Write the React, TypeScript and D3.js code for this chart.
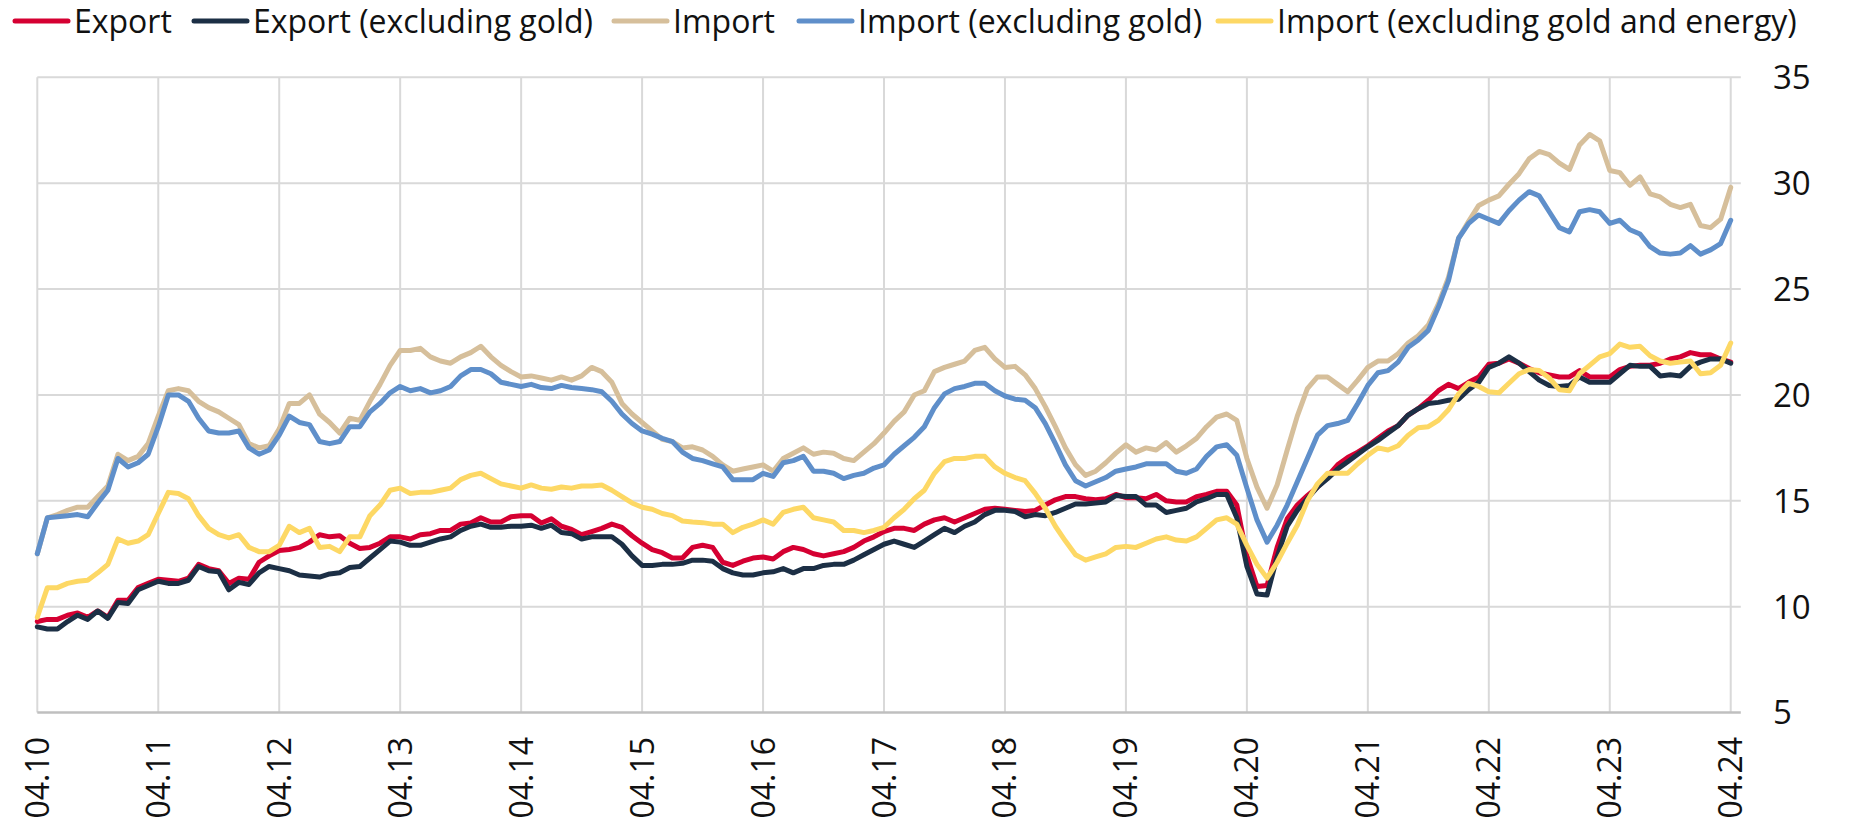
import React from "react";
import * as d3 from "d3";

const W = 1851;
const H = 822;

const tickLabels = ["04.10","04.11","04.12","04.13","04.14","04.15","04.16","04.17","04.18","04.19","04.20","04.21","04.22","04.23","04.24"];
const yTicks = [5, 10, 15, 20, 25, 30, 35];

const exportVals = [
  9.3, 9.4, 9.4, 9.6, 9.7, 9.5, 9.8, 9.5, 10.3, 10.3, 10.9, 11.1, 11.3, 11.25, 11.2, 11.35, 12.0, 11.8, 11.7, 11.1, 11.35, 11.3, 12.1, 12.4, 12.65,
  12.7, 12.8, 13.05, 13.4, 13.3, 13.35, 13.0, 12.75, 12.8, 13.0, 13.3, 13.3, 13.2, 13.4, 13.45, 13.6, 13.6, 13.9, 13.95, 14.2, 14.0, 14.0, 14.25, 14.3,
  14.3, 13.95, 14.15, 13.8, 13.65, 13.4, 13.55, 13.7, 13.9, 13.75, 13.35, 13.0, 12.7, 12.55, 12.3, 12.3, 12.8, 12.9, 12.8, 12.1, 11.95, 12.15, 12.3, 12.35,
  12.25, 12.6, 12.8, 12.7, 12.5, 12.4, 12.5, 12.6, 12.8, 13.1, 13.3, 13.55, 13.7, 13.7, 13.6, 13.9, 14.1, 14.2, 14.0, 14.2, 14.4, 14.6, 14.65, 14.6,
  14.55, 14.5, 14.55, 14.8, 15.05, 15.2, 15.2, 15.1, 15.05, 15.1, 15.3, 15.15, 15.15, 15.1, 15.3, 15.0, 14.95, 14.95, 15.2, 15.3, 15.45, 15.45, 14.8, 12.4,
  10.95, 11.0, 12.8, 14.15, 14.8, 15.25, 15.65, 16.15, 16.7, 17.05, 17.3, 17.6, 17.95, 18.3, 18.55, 19.05, 19.35, 19.75, 20.2, 20.5, 20.3, 20.6, 20.85, 21.45,
  21.5, 21.7, 21.5, 21.25, 21.05, 20.95, 20.85, 20.85, 21.15, 20.85, 20.85, 20.85, 21.2, 21.35, 21.4, 21.4, 21.5, 21.7, 21.8, 22.0, 21.9, 21.9, 21.7, 21.55,
];

const exportExGoldVals = [
  9.05, 8.95, 8.95, 9.3, 9.6, 9.4, 9.8, 9.45, 10.2, 10.15, 10.8, 11.0, 11.2, 11.1, 11.1, 11.25, 11.9, 11.7, 11.65, 10.8, 11.15, 11.05, 11.6, 11.9, 11.8,
  11.7, 11.5, 11.45, 11.4, 11.55, 11.6, 11.85, 11.9, 12.3, 12.7, 13.1, 13.05, 12.9, 12.9, 13.05, 13.2, 13.3, 13.6, 13.8, 13.9, 13.75, 13.75, 13.8, 13.8,
  13.85, 13.7, 13.85, 13.5, 13.45, 13.2, 13.3, 13.3, 13.3, 12.95, 12.4, 11.95, 11.95, 12.0, 12.0, 12.05, 12.2, 12.2, 12.15, 11.8, 11.6, 11.5, 11.5, 11.6,
  11.65, 11.8, 11.6, 11.8, 11.8, 11.95, 12.0, 12.0, 12.2, 12.45, 12.7, 12.95, 13.1, 12.95, 12.8, 13.1, 13.4, 13.7, 13.5, 13.8, 14.0, 14.35, 14.55, 14.55,
  14.5, 14.25, 14.35, 14.3, 14.45, 14.65, 14.85, 14.85, 14.9, 14.95, 15.25, 15.2, 15.2, 14.8, 14.8, 14.45, 14.55, 14.65, 14.95, 15.1, 15.3, 15.3, 14.2, 11.9,
  10.6, 10.55, 12.35, 13.8, 14.55, 15.1, 15.65, 16.05, 16.5, 16.85, 17.2, 17.55, 17.85, 18.2, 18.55, 19.05, 19.35, 19.6, 19.65, 19.75, 19.8, 20.25, 20.6, 21.3,
  21.5, 21.8, 21.5, 21.1, 20.7, 20.45, 20.4, 20.45, 20.85, 20.6, 20.6, 20.6, 21.0, 21.4, 21.35, 21.35, 20.9, 20.95, 20.9, 21.35, 21.55, 21.7, 21.7, 21.5,
];

const importVals = [
  12.5, 14.2, 14.35, 14.55, 14.7, 14.7, 15.2, 15.7, 17.2, 16.9, 17.1, 17.7, 19.0, 20.2, 20.3, 20.2, 19.7, 19.4, 19.2, 18.9, 18.6, 17.7, 17.5, 17.6, 18.4,
  19.6, 19.6, 20.0, 19.1, 18.7, 18.2, 18.9, 18.8, 19.7, 20.5, 21.4, 22.1, 22.1, 22.2, 21.8, 21.6, 21.5, 21.8, 22.0, 22.3, 21.8, 21.4, 21.1, 20.85,
  20.9, 20.8, 20.7, 20.85, 20.7, 20.9, 21.3, 21.1, 20.6, 19.6, 19.1, 18.7, 18.3, 17.9, 17.8, 17.5, 17.55, 17.4, 17.1, 16.7, 16.4, 16.5, 16.6, 16.7,
  16.4, 17.0, 17.25, 17.5, 17.2, 17.3, 17.25, 17.0, 16.9, 17.3, 17.7, 18.2, 18.75, 19.2, 20.0, 20.2, 21.1, 21.3, 21.45, 21.6, 22.1, 22.25, 21.7, 21.3,
  21.35, 20.95, 20.3, 19.45, 18.5, 17.5, 16.7, 16.2, 16.4, 16.8, 17.25, 17.65, 17.3, 17.5, 17.4, 17.75, 17.3, 17.6, 17.95, 18.5, 18.95, 19.1, 18.8, 17.0,
  15.65, 14.65, 15.75, 17.4, 19.0, 20.3, 20.85, 20.85, 20.5, 20.15, 20.7, 21.3, 21.6, 21.6, 21.95, 22.45, 22.8, 23.3, 24.3, 25.55, 27.4, 28.2, 28.95, 29.2,
  29.4, 29.95, 30.45, 31.15, 31.5, 31.35, 30.95, 30.65, 31.8, 32.3, 32.0, 30.6, 30.5, 29.9, 30.3, 29.5, 29.35, 29.0, 28.85, 29.0, 28.0, 27.9, 28.3, 29.8,
];

const importExGoldVals = [
  12.5, 14.2, 14.25, 14.3, 14.35, 14.25, 14.9, 15.5, 17.0, 16.6, 16.8, 17.2, 18.5, 20.0, 20.0, 19.7, 18.9, 18.3, 18.2, 18.2, 18.3, 17.5, 17.2, 17.4, 18.1,
  19.0, 18.7, 18.6, 17.8, 17.7, 17.8, 18.5, 18.5, 19.2, 19.6, 20.1, 20.4, 20.2, 20.3, 20.1, 20.2, 20.4, 20.9, 21.2, 21.2, 21.0, 20.6, 20.5, 20.4,
  20.5, 20.35, 20.3, 20.45, 20.35, 20.3, 20.25, 20.15, 19.7, 19.1, 18.65, 18.3, 18.15, 17.95, 17.8, 17.3, 17.0, 16.9, 16.75, 16.6, 16.0, 16.0, 16.0, 16.3,
  16.15, 16.8, 16.9, 17.1, 16.4, 16.4, 16.3, 16.05, 16.2, 16.3, 16.55, 16.7, 17.2, 17.6, 18.0, 18.5, 19.4, 20.05, 20.3, 20.4, 20.55, 20.55, 20.2, 19.95,
  19.8, 19.75, 19.4, 18.65, 17.7, 16.7, 15.95, 15.7, 15.9, 16.1, 16.4, 16.5, 16.6, 16.75, 16.75, 16.75, 16.4, 16.3, 16.5, 17.1, 17.55, 17.65, 17.15, 15.6,
  14.1, 13.05, 13.85, 14.8, 15.9, 17.0, 18.1, 18.55, 18.65, 18.8, 19.6, 20.45, 21.05, 21.15, 21.55, 22.25, 22.6, 23.05, 24.15, 25.4, 27.4, 28.1, 28.5, 28.3,
  28.1, 28.7, 29.2, 29.6, 29.4, 28.65, 27.9, 27.7, 28.65, 28.75, 28.65, 28.1, 28.25, 27.8, 27.6, 27.0, 26.7, 26.65, 26.7, 27.05, 26.65, 26.85, 27.15, 28.25,
];

const importExGoldEnergyVals = [
  9.5, 10.9, 10.9, 11.1, 11.2, 11.25, 11.6, 12.0, 13.2, 13.0, 13.1, 13.4, 14.4, 15.4, 15.35, 15.1, 14.3, 13.7, 13.4, 13.25, 13.4, 12.8, 12.6, 12.6, 12.9,
  13.8, 13.5, 13.7, 12.8, 12.85, 12.6, 13.3, 13.3, 14.3, 14.8, 15.5, 15.6, 15.35, 15.4, 15.4, 15.5, 15.6, 16.0, 16.2, 16.3, 16.05, 15.8, 15.7, 15.6,
  15.75, 15.6, 15.55, 15.65, 15.6, 15.7, 15.7, 15.75, 15.5, 15.2, 14.9, 14.7, 14.6, 14.4, 14.3, 14.05, 14.0, 13.97, 13.9, 13.9, 13.5, 13.75, 13.9, 14.1,
  13.9, 14.45, 14.6, 14.7, 14.2, 14.1, 14.0, 13.6, 13.6, 13.5, 13.6, 13.75, 14.2, 14.6, 15.1, 15.5, 16.3, 16.85, 17.0, 17.0, 17.1, 17.1, 16.6, 16.3,
  16.1, 15.95, 15.35, 14.65, 13.8, 13.1, 12.45, 12.2, 12.35, 12.5, 12.8, 12.85, 12.8, 13.0, 13.2, 13.3, 13.15, 13.1, 13.3, 13.7, 14.1, 14.2, 13.9, 12.9,
  12.0, 11.35, 12.1, 13.0, 13.85, 15.0, 15.8, 16.3, 16.3, 16.3, 16.75, 17.15, 17.5, 17.4, 17.6, 18.1, 18.45, 18.5, 18.8, 19.3, 20.05, 20.55, 20.4, 20.15,
  20.1, 20.55, 21.0, 21.2, 21.15, 20.8, 20.25, 20.2, 21.0, 21.4, 21.8, 21.95, 22.4, 22.25, 22.3, 21.85, 21.6, 21.5, 21.55, 21.6, 21.0, 21.05, 21.4, 22.45,
];

const seriesNames = [
  "Export",
  "Export (excluding gold)",
  "Import",
  "Import (excluding gold)",
  "Import (excluding gold and energy)",
];
const seriesValues = [exportVals, exportExGoldVals, importVals, importExGoldVals, importExGoldEnergyVals];
const seriesColors = ["#d50032", "#1c2f45", "#d6bf9b", "#5f8fca", "#fdd865"];
const legendX = [13, 192, 612, 797, 1216];

const FONT = "'Open Sans', 'Noto Sans', sans-serif";

export default function App() {
  const nPts = exportVals.length;
  const x = d3.scaleLinear().domain([0, nPts]).range([37.3, 1740.8]);
  const y = d3.scaleLinear().domain([5, 35]).range([712.6, 77.3]);
  const line = d3
    .line<number>()
    .x((_, i) => x(i))
    .y((d) => y(d))
    .curve(d3.curveLinear);

  const yearIdx = tickLabels.map((_, i) => i * 12);

  return (
    <svg
      width={W}
      height={H}
      viewBox={`0 0 ${W} ${H}`}
      style={{ position: "absolute", left: 0, top: 0, background: "#fff" }}
    >
      {yTicks.filter((t) => t !== 5).map((t) => (
        <line key={"h" + t} x1={x(0)} x2={x(nPts)} y1={y(t)} y2={y(t)} stroke="#d9d9d9" strokeWidth={2} />
      ))}
      {yearIdx.map((i) => (
        <line key={"v" + i} x1={x(i)} x2={x(i)} y1={y(35)} y2={y(5)} stroke="#d9d9d9" strokeWidth={2} />
      ))}
      <line x1={x(0)} x2={x(nPts)} y1={y(5)} y2={y(5)} stroke="#bfbfbf" strokeWidth={2.5} />

      {seriesValues.map((vals, si) => (
        <path
          key={seriesNames[si]}
          d={line(vals) || ""}
          fill="none"
          stroke={seriesColors[si]}
          strokeWidth={5}
          strokeLinejoin="round"
          strokeLinecap="round"
        />
      ))}

      {yTicks.map((t) => (
        <text
          key={"yl" + t}
          x={1773}
          y={y(t)}
          dy="0.36em"
          fontFamily={FONT}
          fontSize={33}
          fill="#111"
          textAnchor="start"
        >
          {t}
        </text>
      ))}

      {tickLabels.map((lab, k) => {
        const cx = x(yearIdx[k]);
        const ty = 737;
        return (
          <text
            key={"xl" + lab}
            transform={`translate(${cx},${ty}) rotate(-90)`}
            dy="0.36em"
            fontFamily={FONT}
            fontSize={32}
            fill="#111"
            textAnchor="end"
          >
            {lab}
          </text>
        );
      })}

      {seriesNames.map((name, si) => (
        <g key={"lg" + si}>
          <line
            x1={legendX[si] + 2}
            x2={legendX[si] + 55}
            y1={21}
            y2={21}
            stroke={seriesColors[si]}
            strokeWidth={5}
            strokeLinecap="round"
          />
          <text x={legendX[si] + 61} y={33} fontFamily={FONT} fontSize={32} fill="#111">
            {name}
          </text>
        </g>
      ))}
    </svg>
  );
}
